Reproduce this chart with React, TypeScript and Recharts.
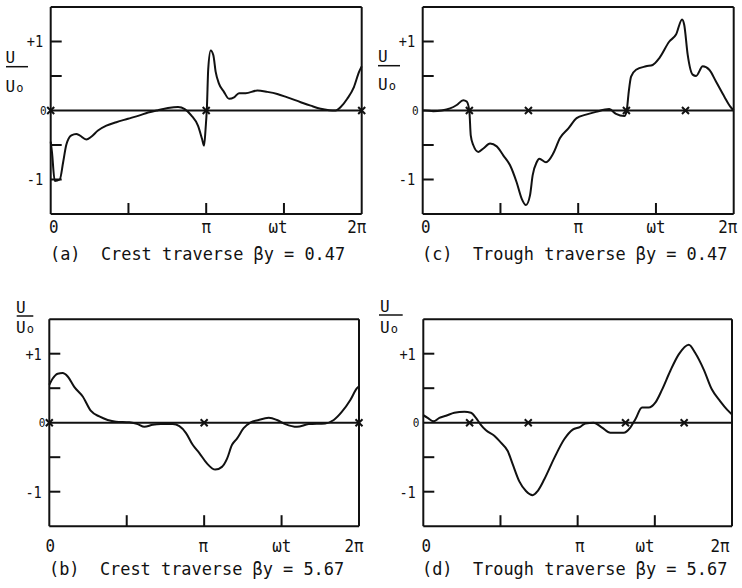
import React from "react";
import { ComposedChart, Line, Scatter, XAxis, YAxis, ReferenceLine } from "recharts";

const FONT = '"DejaVu Sans Mono", "Liberation Mono", monospace';
const INK = "#111";
const TICK = 11;
const AX = 1; // thickness reserved for each axis band

// ωt in units of π, U/U0
const crestLowT = [0, 0.008, 0.026, 0.058, 0.08, 0.1, 0.133, 0.165, 0.186, 0.229, 0.261, 0.304, 0.358, 0.422, 0.497, 0.572, 0.626, 0.69, 0.754, 0.819, 0.862, 0.904, 0.947, 0.973, 0.986, 0.995, 1.005, 1.013, 1.029, 1.046, 1.061, 1.082, 1.114, 1.147, 1.179, 1.211, 1.254, 1.329, 1.393, 1.457, 1.522, 1.608, 1.672, 1.736, 1.79, 1.833, 1.865, 1.907, 1.95, 1.983, 2.0];
const crestLowU = [-0.45, -0.6, -1.02, -1.0, -0.75, -0.5, -0.36, -0.34, -0.36, -0.42, -0.38, -0.29, -0.22, -0.17, -0.12, -0.07, -0.03, 0.005, 0.035, 0.05, 0.02, -0.07, -0.22, -0.41, -0.51, -0.3, 0.07, 0.6, 0.87, 0.8, 0.56, 0.39, 0.27, 0.17, 0.19, 0.25, 0.25, 0.29, 0.27, 0.24, 0.19, 0.12, 0.07, 0.025, 0.005, 0.0, 0.05, 0.17, 0.34, 0.56, 0.64];

const troughLowT = [0, 0.015, 0.068, 0.122, 0.176, 0.219, 0.261, 0.283, 0.3, 0.309, 0.325, 0.358, 0.39, 0.433, 0.476, 0.518, 0.561, 0.604, 0.637, 0.664, 0.69, 0.707, 0.733, 0.75, 0.793, 0.84, 0.883, 0.937, 0.99, 1.05, 1.114, 1.2, 1.243, 1.297, 1.312, 1.325, 1.34, 1.372, 1.436, 1.479, 1.522, 1.586, 1.629, 1.668, 1.682, 1.704, 1.736, 1.758, 1.801, 1.843, 1.886, 1.94, 1.977, 2.0];
const troughLowU = [0, 0, -0.01, 0, 0.03, 0.08, 0.15, 0.13, -0.01, -0.36, -0.5, -0.6, -0.55, -0.48, -0.52, -0.65, -0.79, -1.04, -1.28, -1.37, -1.23, -0.94, -0.75, -0.7, -0.75, -0.62, -0.4, -0.26, -0.11, -0.06, -0.02, 0.02, -0.05, -0.08, 0.0, 0.27, 0.49, 0.59, 0.64, 0.66, 0.76, 1.0, 1.1, 1.32, 1.24, 0.81, 0.52, 0.5, 0.64, 0.59, 0.42, 0.2, 0.06, 0.0];

const crestHighT = [0, 0.022, 0.054, 0.086, 0.119, 0.161, 0.216, 0.269, 0.323, 0.377, 0.431, 0.517, 0.571, 0.614, 0.668, 0.721, 0.797, 0.84, 0.883, 0.926, 0.969, 1.018, 1.072, 1.115, 1.148, 1.18, 1.212, 1.255, 1.298, 1.352, 1.417, 1.47, 1.524, 1.6, 1.675, 1.782, 1.837, 1.89, 1.944, 1.987, 2.0];
const crestHighU = [0.55, 0.64, 0.71, 0.72, 0.67, 0.52, 0.38, 0.17, 0.09, 0.04, 0.015, 0.005, -0.02, -0.06, -0.03, -0.02, -0.02, -0.05, -0.15, -0.32, -0.44, -0.59, -0.68, -0.64, -0.52, -0.32, -0.23, -0.08, 0.0, 0.04, 0.07, 0.04, -0.02, -0.06, -0.02, -0.01, 0.04, 0.16, 0.33, 0.5, 0.53];

const troughHighT = [0, 0.028, 0.067, 0.104, 0.147, 0.201, 0.266, 0.309, 0.341, 0.369, 0.406, 0.46, 0.503, 0.547, 0.579, 0.622, 0.665, 0.709, 0.741, 0.784, 0.849, 0.913, 0.968, 1.017, 1.05, 1.104, 1.158, 1.212, 1.255, 1.298, 1.341, 1.374, 1.417, 1.46, 1.503, 1.547, 1.6, 1.655, 1.72, 1.762, 1.817, 1.87, 1.924, 1.968, 2.0];
const troughHighU = [0.11, 0.07, 0.02, 0.07, 0.1, 0.145, 0.16, 0.145, 0.07, -0.02, -0.11, -0.19, -0.29, -0.41, -0.6, -0.85, -0.99, -1.05, -0.99, -0.82, -0.51, -0.24, -0.1, -0.06, -0.01, 0.0, -0.07, -0.145, -0.145, -0.145, -0.07, 0.05, 0.22, 0.22, 0.29, 0.48, 0.75, 0.99, 1.13, 1.01, 0.77, 0.48, 0.31, 0.19, 0.12];

// × marks on the zero line
const crestCrosses = [0, 1, 2];
const troughCrosses = [0.3, 0.68, 1.31, 1.69];

const xTicks = [0, 0.5, 1, 1.5, 2];
const yTicks = [-1, -0.5, 0, 0.5, 1];
const xLabels: Record<number, string> = { 0: "0", 1: "π", 2: "2π" };
const yLabels: Record<string, string> = { "-1": "-1", "0": "0", "1": "+1" };

const toRows = (t: number[], u: number[]) => t.map((v, i) => ({ t: v, u: u[i] }));
const toMarks = (t: number[]) => t.map((v) => ({ t: v, u: 0 }));

const panels = [
  {
    id: "a", rows: toRows(crestLowT, crestLowU), marks: toMarks(crestCrosses),
    box: [0, 0, 371, 290], plot: [50.7, 7, 311, 207], labelDy: 19.3, labelDx: [3, 0, -5],
    caption: "(a)  Crest traverse βy = 0.47", cap: [50, 260], wt: [278, 233],
    frac: { x: 5.5, top: 63.3, bar: 66.7, bottom: 91.7, x1: 6, x2: 28 },
  },
  {
    id: "c", rows: toRows(troughLowT, troughLowU), marks: toMarks(troughCrosses),
    box: [371, 0, 371, 290], plot: [422.7, 7, 311, 207], labelDy: 19.3, labelDx: [3, 0, -6],
    caption: "(c)  Trough traverse βy = 0.47", cap: [422, 260], wt: [656, 233],
    frac: { x: 378, top: 61.7, bar: 65.7, bottom: 90, x1: 378, x2: 400 },
  },
  {
    id: "b", rows: toRows(crestHighT, crestHighU), marks: toMarks(crestCrosses),
    box: [0, 290, 371, 298], plot: [49.3, 319.2, 309.7, 207], labelDy: 26, labelDx: [1, -1, -5],
    caption: "(b)  Crest traverse βy = 5.67", cap: [49, 575], wt: [281.7, 552],
    frac: { x: 16, top: 313.3, bar: 316, bottom: 333.3, x1: 16.7, x2: 33.3 },
  },
  {
    id: "d", rows: toRows(troughHighT, troughHighU), marks: toMarks(troughCrosses),
    box: [371, 290, 371, 298], plot: [423.3, 319.2, 308.7, 207], labelDy: 26, labelDx: [3, 2, -12],
    caption: "(d)  Trough traverse βy = 5.67", cap: [422, 575], wt: [645, 552],
    frac: { x: 380, top: 311.7, bar: 315, bottom: 333.3, x1: 379, x2: 402.7 },
  },
];

function BottomTick(props: any) {
  const { x, y, payload, labelDy, labelDx } = props;
  const v = payload.value;
  const label = xLabels[v];
  return (
    <g>
      {v > 0 && v < 2 && <line x1={x} y1={y} x2={x} y2={y - TICK} stroke={INK} strokeWidth={2} />}
      {label && (
        <text transform={`translate(${x + labelDx[v]} ${y + labelDy}) scale(0.88 1)`} textAnchor="middle"
          fontFamily={FONT} fontSize={18} fill={INK}>{label}</text>
      )}
    </g>
  );
}

function TopTick(props: any) {
  const { x, y, payload } = props;
  const v = payload.value;
  if (!(v > 0 && v < 2)) return <g />;
  return <line x1={x} y1={y} x2={x} y2={y + TICK} stroke={INK} strokeWidth={2} />;
}

function LeftTick(props: any) {
  const { x, y, payload } = props;
  const v = payload.value;
  const label = yLabels[String(v)];
  const zero = v === 0;
  return (
    <g>
      {!zero && <line x1={x} y1={y} x2={x + TICK} y2={y} stroke={INK} strokeWidth={2} />}
      {label && (
        <text transform={`translate(${zero ? x - 4 : x - 7.5} ${zero ? y + 4.5 : y + 5.8}) scale(0.85 1)`}
          textAnchor="end" fontFamily={FONT} fontSize={zero ? 13 : 16} fill={INK}>{label}</text>
      )}
    </g>
  );
}

function RightTick(props: any) {
  const { x, y, payload } = props;
  if (payload.value === 0) return <g />;
  return <line x1={x} y1={y} x2={x - TICK} y2={y} stroke={INK} strokeWidth={2} />;
}

function Cross(props: any) {
  const { cx, cy } = props;
  const s = 3.5;
  return (
    <path d={`M${cx - s},${cy - s}L${cx + s},${cy + s}M${cx - s},${cy + s}L${cx + s},${cy - s}`}
      stroke={INK} strokeWidth={2} fill="none" />
  );
}

function PanelChart({ p }: { p: any }) {
  const [bx, by, bw, bh] = p.box;
  const [px, py, pw, ph] = p.plot;
  const margin = {
    left: px - bx - AX,
    top: py - by - AX,
    right: bx + bw - px - pw - AX,
    bottom: by + bh - py - ph - AX,
  };
  const frame = { stroke: INK, strokeWidth: 2 };
  return (
    <div style={{ position: "absolute", left: bx, top: by }}>
      <ComposedChart width={bw} height={bh} margin={margin}>
        <XAxis xAxisId="b" type="number" dataKey="t" domain={[0, 2]} ticks={xTicks} interval={0}
          height={AX} tickSize={0} tickMargin={0} tickLine={false} axisLine={frame}
          tick={(tp: any) => <BottomTick {...tp} labelDy={p.labelDy} labelDx={p.labelDx} />} />
        <XAxis xAxisId="t" orientation="top" type="number" dataKey="t" domain={[0, 2]} ticks={xTicks} interval={0}
          height={AX} tickSize={0} tickMargin={0} tickLine={false} axisLine={frame}
          tick={(tp: any) => <TopTick {...tp} />} />
        <YAxis yAxisId="l" type="number" dataKey="u" domain={[-1.5, 1.5]} ticks={yTicks} interval={0}
          width={AX} tickSize={0} tickMargin={0} tickLine={false} axisLine={frame}
          tick={(tp: any) => <LeftTick {...tp} />} />
        <YAxis yAxisId="r" orientation="right" type="number" dataKey="u" domain={[-1.5, 1.5]} ticks={yTicks} interval={0}
          width={AX} tickSize={0} tickMargin={0} tickLine={false} axisLine={frame}
          tick={(tp: any) => <RightTick {...tp} />} />
        <ReferenceLine xAxisId="b" yAxisId="l" y={0} stroke={INK} strokeWidth={2} />
        <Line xAxisId="b" yAxisId="l" data={p.rows} dataKey="u" type="monotone" dot={false}
          stroke={INK} strokeWidth={2} isAnimationActive={false} />
        <Scatter xAxisId="b" yAxisId="l" data={p.marks} dataKey="u" shape={Cross} isAnimationActive={false} />
      </ComposedChart>
    </div>
  );
}

function Overlay() {
  return (
    <svg width={742} height={588} style={{ position: "absolute", left: 0, top: 0, pointerEvents: "none" }}>
      {panels.map((p) => (
        <g key={p.id} fill={INK} fontFamily={FONT}>
          <text transform={`translate(${p.cap[0]} ${p.cap[1]}) scale(0.94 1)`} fontSize={18}
            style={{ whiteSpace: "pre" }}>{p.caption}</text>
          <text transform={`translate(${p.wt[0]} ${p.wt[1]}) scale(0.88 1)`} textAnchor="middle" fontSize={18}>ωt</text>
          <text x={p.frac.x} y={p.frac.top} fontSize={16}>U</text>
          <line x1={p.frac.x1} x2={p.frac.x2} y1={p.frac.bar} y2={p.frac.bar} stroke={INK} strokeWidth={1.5} />
          <text x={p.frac.x} y={p.frac.bottom} fontSize={16}>U<tspan fontSize={12} dx={1}>o</tspan></text>
        </g>
      ))}
    </svg>
  );
}

export default function App() {
  return (
    <div style={{ position: "absolute", left: 0, top: 0, width: 742, height: 588, background: "#fff" }}>
      {panels.map((p) => <PanelChart key={p.id} p={p} />)}
      <Overlay />
    </div>
  );
}
